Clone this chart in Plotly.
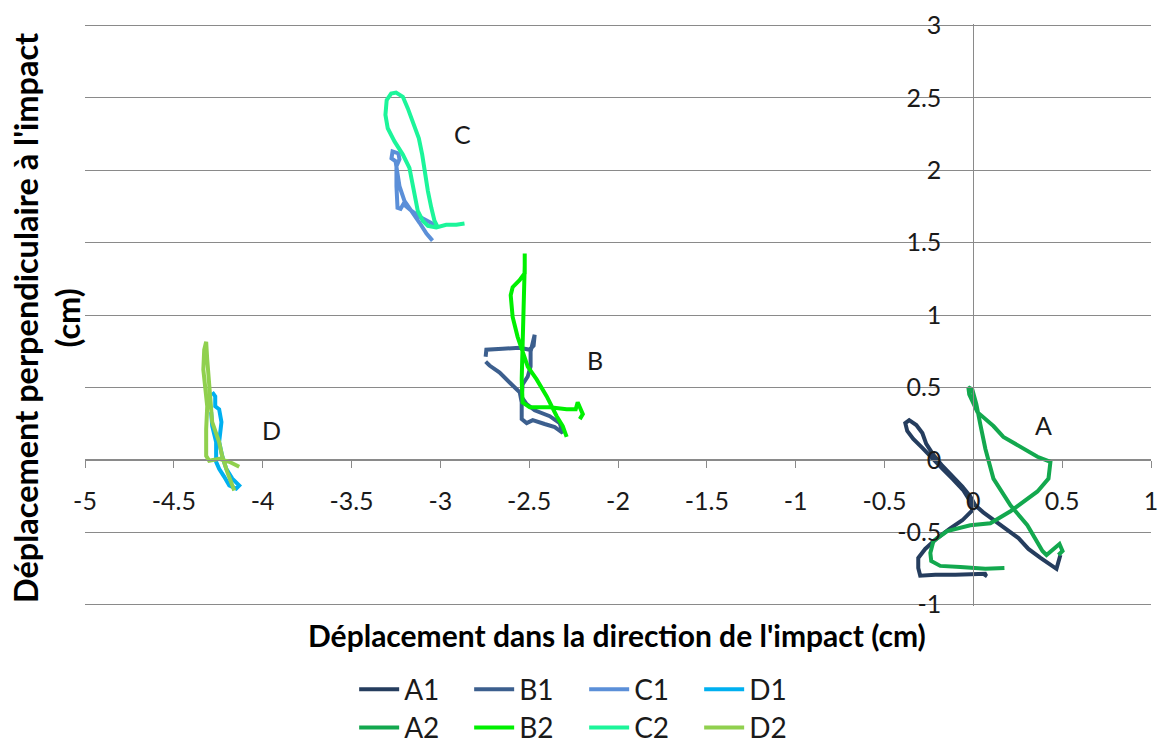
import plotly.graph_objects as go

# ---------------- data (cm) ----------------
A1_x = [0.490, 0.468, 0.378, 0.310, 0.254, 0.180, 0.113, 0.056, 0.011, -0.017, -0.062, -0.118, -0.175,
        -0.225, -0.265, -0.287, -0.321, -0.361, -0.383, -0.372, -0.338, -0.287, -0.231, -0.169, -0.113,
        -0.056, -0.017, -0.006, -0.062, -0.130, -0.203, -0.271, -0.310, -0.310, -0.299, -0.214, -0.101,
        0.011, 0.073, 0.062]
A1_y = [-0.658, -0.753, -0.678, -0.616, -0.541, -0.473, -0.418, -0.363, -0.315, -0.253, -0.185, -0.116,
        -0.041, 0.034, 0.110, 0.185, 0.240, 0.274, 0.253, 0.199, 0.144, 0.082, 0.007, -0.068, -0.137,
        -0.212, -0.288, -0.349, -0.418, -0.473, -0.541, -0.616, -0.678, -0.747, -0.801, -0.795, -0.795,
        -0.788, -0.788, -0.808]

B1_x = [-2.745, -2.741, -2.649, -2.553, -2.497, -2.475, -2.469, -2.475, -2.492, -2.492, -2.508, -2.537,
        -2.542, -2.514, -2.469, -2.384, -2.328, -2.311, -2.356, -2.413, -2.480, -2.514, -2.542, -2.542,
        -2.553, -2.610, -2.666, -2.723, -2.745]
B1_y = [0.712, 0.760, 0.767, 0.774, 0.760, 0.788, 0.863, 0.829, 0.747, 0.644, 0.575, 0.521, 0.432, 0.384,
        0.342, 0.301, 0.253, 0.185, 0.226, 0.247, 0.274, 0.253, 0.281, 0.397, 0.466, 0.534, 0.603, 0.651,
        0.678]

C1_x = [-3.044, -3.078, -3.117, -3.162, -3.202, -3.230, -3.241, -3.252, -3.275, -3.269, -3.236, -3.230,
        -3.247, -3.247, -3.241, -3.224, -3.208, -3.162, -3.106, -3.050, -3.022]
C1_y = [1.514, 1.562, 1.637, 1.719, 1.788, 1.890, 1.993, 2.062, 2.082, 2.130, 2.116, 2.075, 2.027, 1.890,
        1.740, 1.733, 1.767, 1.719, 1.671, 1.637, 1.616]

D1_x = [-4.284, -4.267, -4.267, -4.245, -4.232, -4.245, -4.228, -4.205, -4.171, -4.132, -4.149, -4.188,
        -4.217, -4.245, -4.262, -4.262, -4.284, -4.290]
D1_y = [0.466, 0.438, 0.370, 0.349, 0.260, 0.123, 0.027, -0.062, -0.130, -0.178, -0.199, -0.178, -0.116,
        -0.062, -0.014, 0.123, 0.233, 0.329]

A2_x = [0.175, 0.068, -0.073, -0.186, -0.237, -0.242, -0.225, -0.147, -0.017, 0.096, 0.209, 0.282, 0.361,
        0.423, 0.434, 0.361, 0.304, 0.225, 0.169, 0.113, 0.023, -0.023, -0.028, -0.006, 0.017, 0.039,
        0.068, 0.113, 0.209, 0.304, 0.389, 0.412, 0.457, 0.485, 0.502, 0.479]
A2_y = [-0.747, -0.753, -0.740, -0.733, -0.699, -0.644, -0.562, -0.493, -0.452, -0.438, -0.356, -0.288,
        -0.219, -0.130, -0.014, 0.021, 0.062, 0.123, 0.158, 0.233, 0.329, 0.452, 0.500, 0.486, 0.384,
        0.247, 0.075, -0.130, -0.315, -0.452, -0.630, -0.658, -0.610, -0.582, -0.630, -0.658]

B2_x = [-2.215, -2.198, -2.227, -2.238, -2.289, -2.384, -2.497, -2.537, -2.542, -2.537, -2.531, -2.525,
        -2.525, -2.525, -2.525, -2.554, -2.593, -2.604, -2.593, -2.565, -2.537, -2.508, -2.458, -2.401,
        -2.345, -2.311, -2.289]
B2_y = [0.281, 0.315, 0.397, 0.349, 0.349, 0.363, 0.363, 0.397, 0.555, 0.760, 0.966, 1.171, 1.342, 1.425,
        1.288, 1.240, 1.192, 1.137, 0.986, 0.849, 0.740, 0.644, 0.555, 0.438, 0.301, 0.233, 0.158]

C2_x = [-2.864, -2.910, -2.967, -3.023, -3.070, -3.099, -3.127, -3.145, -3.158, -3.174, -3.211, -3.258,
        -3.296, -3.309, -3.302, -3.277, -3.249, -3.211, -3.183, -3.155, -3.121, -3.102, -3.089, -3.070,
        -3.051, -3.033, -3.014]
C2_y = [1.632, 1.623, 1.623, 1.605, 1.616, 1.651, 1.719, 1.834, 1.947, 2.016, 2.108, 2.199, 2.290, 2.382,
        2.484, 2.529, 2.536, 2.507, 2.427, 2.336, 2.221, 2.108, 1.993, 1.856, 1.742, 1.651, 1.605]

D2_x = [-4.132, -4.188, -4.245, -4.301, -4.318, -4.318, -4.312, -4.323, -4.334, -4.329, -4.318, -4.312,
        -4.301, -4.284, -4.245, -4.228, -4.200, -4.160]
D2_y = [-0.048, -0.014, 0.007, -0.007, 0.027, 0.212, 0.370, 0.486, 0.623, 0.760, 0.815, 0.692, 0.486,
        0.260, 0.123, 0.027, -0.082, -0.212]

series_names = ["A1", "B1", "C1", "D1", "A2", "B2", "C2", "D2"]
series_x = [A1_x, B1_x, C1_x, D1_x, A2_x, B2_x, C2_x, D2_x]
series_y = [A1_y, B1_y, C1_y, D1_y, A2_y, B2_y, C2_y, D2_y]
series_colors = ["#253d5e", "#3c5f8e", "#5b8fd8", "#00b0f0", "#13a84e", "#00f000", "#1cf59a", "#90d04e"]

group_labels = ["A", "B", "C", "D"]
group_label_x = [0.397, -2.13, -2.878, -3.948]
group_label_y = [0.238, 0.686, 2.252, 0.203]

x_tickvals = [-5, -4.5, -4, -3.5, -3, -2.5, -2, -1.5, -1, -0.5, 0, 0.5, 1]
x_ticktext = ["-5", "-4.5", "-4", "-3.5", "-3", "-2.5", "-2", "-1.5", "-1", "-0.5", "0", "0.5", "1"]
y_tickvals = [-1, -0.5, 0, 0.5, 1, 1.5, 2, 2.5, 3]
y_ticktext = ["-1", "-0.5", "0", "0.5", "1", "1.5", "2", "2.5", "3"]

x_title = "Déplacement dans la direction de l'impact (cm)"
y_title = "Déplacement perpendiculaire à l'impact<br>(cm)"

FONT = "Lato"
TXT = "#1a1a1a"
GRID = "#8a8a8a"

X_RANGE = [-5, 1]
Y_RANGE = [-1.01, 3.01]   # tiny padding so the edge gridlines at -1 and 3 are drawn

fig = go.Figure()
for i, (n, xs, ys, c) in enumerate(zip(series_names, series_x, series_y, series_colors)):
    fig.add_trace(go.Scatter(
        x=xs, y=ys, mode="lines", name=n,
        line=dict(color=c, width=4),
        legend="legend" if i < 4 else "legend2",
    ))

for lab, lx, ly in zip(group_labels, group_label_x, group_label_y):
    fig.add_annotation(x=lx, y=ly, xref="x", yref="y", text=lab, showarrow=False,
                       font=dict(family=FONT, size=25, color=TXT))

fig.add_annotation(xref="paper", yref="paper", x=-0.036, y=0.494, text=y_title, textangle=-90,
                   showarrow=False, xanchor="center", yanchor="middle",
                   font=dict(family=FONT, size=32.5, color="#000000", weight=700))
fig.add_annotation(xref="paper", yref="paper", x=0.499, y=-0.05, text=x_title,
                   showarrow=False, xanchor="center", yanchor="middle",
                   font=dict(family=FONT, size=30, color="#000000", weight=700))

legend_common = dict(orientation="h", xref="container", yref="container", xanchor="left",
                     yanchor="middle", font=dict(family=FONT, size=28, color=TXT),
                     entrywidthmode="pixels", entrywidth=60, bgcolor="rgba(0,0,0,0)",
                     itemwidth=40, tracegroupgap=0)

# axis crossing positions (x axis at y=0, y axis at x=0)
x_axis_pos = (0 - Y_RANGE[0]) / (Y_RANGE[1] - Y_RANGE[0])
y_axis_pos = (0 - X_RANGE[0]) / (X_RANGE[1] - X_RANGE[0])

fig.update_layout(
    width=1165, height=747,
    margin=dict(l=85, r=14, t=24, b=141, autoexpand=False),
    paper_bgcolor="white", plot_bgcolor="white",
    font=dict(family=FONT, color=TXT),
    xaxis=dict(range=X_RANGE, tickvals=x_tickvals, ticktext=x_ticktext, showgrid=False,
               zeroline=False, showline=True, linecolor=GRID, linewidth=1,
               ticks="outside", ticklen=7, tickcolor=GRID, anchor="free", position=x_axis_pos,
               ticklabelstandoff=12, tickfont=dict(family=FONT, size=25, color=TXT)),
    yaxis=dict(range=Y_RANGE, tickvals=y_tickvals, ticktext=y_ticktext, showgrid=True,
               gridcolor=GRID, gridwidth=1, zeroline=False, showline=True, linecolor=GRID,
               linewidth=1, ticks="outside", ticklen=7, tickcolor=GRID, anchor="free",
               position=y_axis_pos, ticklabelstandoff=20,
               tickfont=dict(family=FONT, size=25, color=TXT)),
    legend=dict(x=0.304, y=0.077, **legend_common),
    legend2=dict(x=0.304, y=0.0257, **legend_common),
    showlegend=True,
)

fig.write_html("out.html", config={"displayModeBar": False},
               post_script="document.body.style.margin='0';document.body.style.padding='0';")
